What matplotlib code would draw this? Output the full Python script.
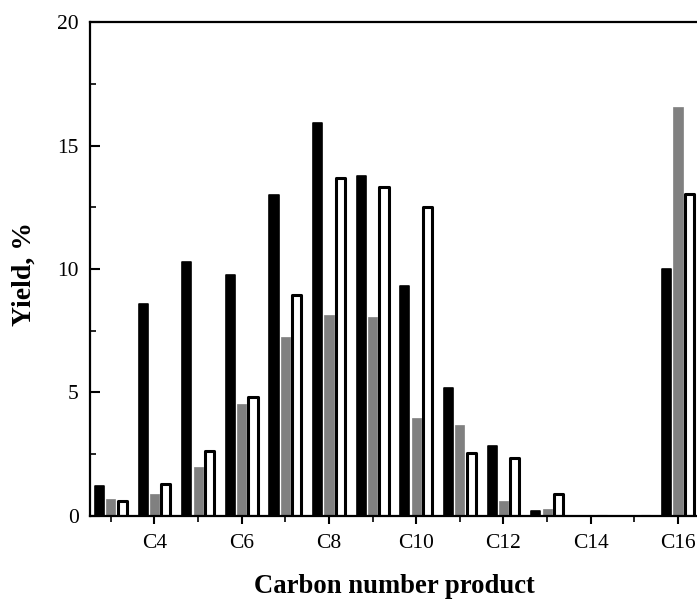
import matplotlib
matplotlib.use("Agg")
import matplotlib.pyplot as plt
import numpy as np
from matplotlib.ticker import MultipleLocator, FixedLocator

carbons = [3, 4, 5, 6, 7, 8, 9, 10, 11, 12, 13, 14, 15, 16]
black_vals = [1.2, 8.6, 10.3, 9.75, 13.0, 15.9, 13.75, 9.3, 5.2, 2.85, 0.2, 0.0, 0.0, 10.0]
gray_vals = [0.7, 0.87, 2.0, 4.55, 7.25, 8.15, 8.05, 3.95, 3.7, 0.6, 0.3, 0.0, 0.0, 16.55]
white_vals = [0.6, 1.3, 2.65, 4.8, 8.95, 13.7, 13.3, 12.5, 2.55, 2.35, 0.9, 0.0, 0.0, 13.05]
tick_labels = ["C4", "C6", "C8", "C10", "C12", "C14", "C16"]
tick_pos = [4, 6, 8, 10, 12, 14, 16]

plt.rcParams['font.family'] = ['Liberation Serif', 'DejaVu Serif']

fig = plt.figure(figsize=(6.97, 6.03), dpi=100)
ax = fig.add_axes([0.129, 0.1443, 0.875, 0.8192])

x = np.array(carbons, dtype=float)
w = 0.21
off = 0.26
ax.bar(x - off, black_vals, width=w, color='black', edgecolor='black', linewidth=1.2, joinstyle='round')
ax.bar(x, gray_vals, width=w, color='#808080', edgecolor='#808080', linewidth=0.5)
ax.bar(x + off, white_vals, width=w, color='white', edgecolor='black', linewidth=2.2, joinstyle='round')

ax.set_xlim(2.52, 16.5)
ax.set_ylim(0, 20)

ax.xaxis.set_major_locator(FixedLocator(tick_pos))
ax.set_xticklabels(tick_labels)
ax.xaxis.set_minor_locator(FixedLocator([3, 5, 7, 9, 11, 13, 15]))
ax.yaxis.set_major_locator(MultipleLocator(5))
ax.yaxis.set_minor_locator(MultipleLocator(2.5))

ax.tick_params(axis='x', which='major', direction='out', length=6, width=1.5, labelsize=15.5, pad=7)
ax.tick_params(axis='x', which='minor', direction='out', length=4, width=1.2)
ax.tick_params(axis='y', which='major', direction='in', length=7, width=1.5, labelsize=15.5, pad=8)
ax.tick_params(axis='y', which='minor', direction='in', length=4, width=1.2)

for s in ['left', 'bottom', 'top']:
    ax.spines[s].set_linewidth(1.6)
ax.spines['right'].set_visible(False)

ax.set_xlabel("Carbon number product", fontsize=19.2, fontweight='bold', labelpad=15)
ax.set_ylabel("Yield, %", fontsize=20, fontweight='bold')
ax.yaxis.set_label_coords(-0.088, 0.49)

fig.savefig("out.png", dpi=100)
